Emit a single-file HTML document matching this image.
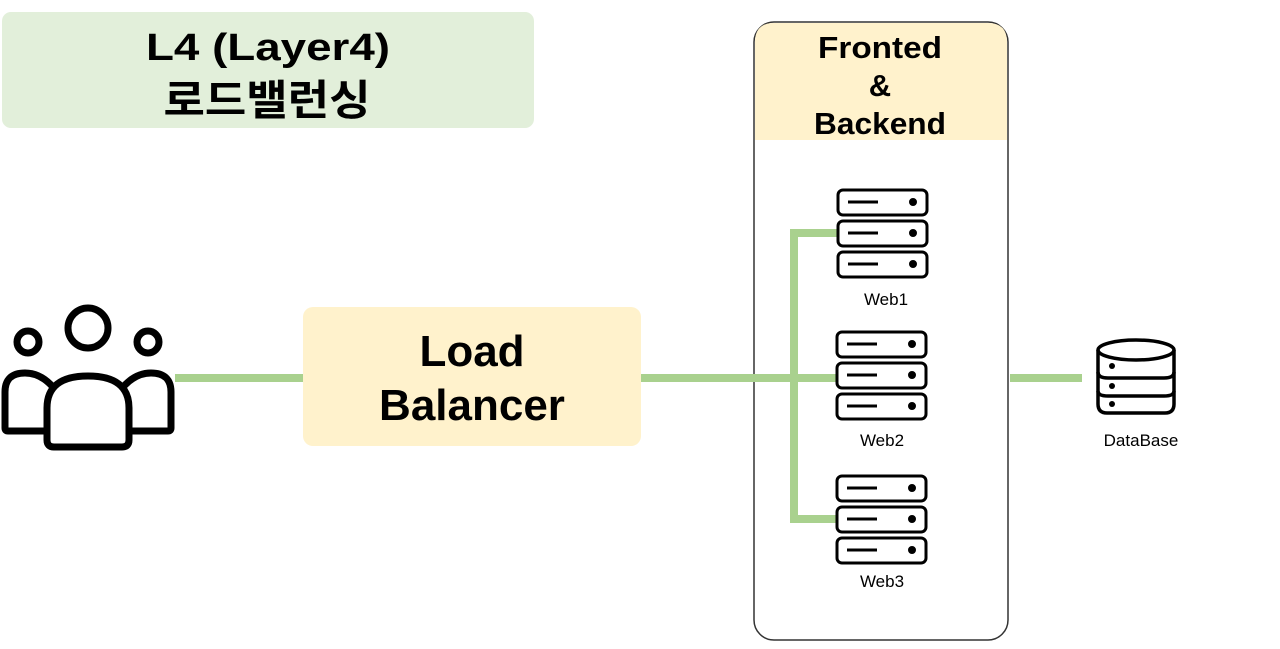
<!DOCTYPE html>
<html><head><meta charset="utf-8"><style>
body{margin:0;background:#fff;}
svg text{font-family:"Liberation Sans","Noto Sans CJK KR",sans-serif;}
</style></head><body>
<svg width="1280" height="644" viewBox="0 0 1280 644" xmlns="http://www.w3.org/2000/svg">
<rect x="2" y="12" width="532" height="116" rx="9" fill="#e2efda"/>
<text x="268" y="60" font-size="38" font-weight="bold" text-anchor="middle" textLength="244" lengthAdjust="spacingAndGlyphs">L4 (Layer4)</text>
<text x="267" y="115" font-size="42" font-weight="bold" text-anchor="middle" textLength="207" lengthAdjust="spacingAndGlyphs">로드밸런싱</text>

<rect x="754" y="22" width="254" height="618" rx="20" fill="#fff" stroke="#333" stroke-width="1.5"/>
<path d="M755 42 Q755 23 774 23 L988 23 Q1007 23 1007 42 L1007 140 L755 140 Z" fill="#fff2cc"/>
<text x="880" y="58" font-size="31" font-weight="bold" text-anchor="middle" textLength="124" lengthAdjust="spacingAndGlyphs">Fronted</text>
<text x="880" y="96" font-size="31" font-weight="bold" text-anchor="middle">&amp;</text>
<text x="880" y="134" font-size="31" font-weight="bold" text-anchor="middle" textLength="132" lengthAdjust="spacingAndGlyphs">Backend</text>

<g stroke="#a9d18e" stroke-width="8" fill="none">
<line x1="175" y1="378" x2="303" y2="378"/>
<line x1="641" y1="378" x2="837" y2="378"/>
<polyline points="837,233 794,233 794,519 837,519"/>
<line x1="1010" y1="378" x2="1082" y2="378"/>
</g>

<rect x="303" y="307" width="338" height="139" rx="10" fill="#fff2cc"/>
<text x="472" y="366" font-size="44" font-weight="bold" text-anchor="middle">Load</text>
<text x="472" y="420" font-size="44" font-weight="bold" text-anchor="middle">Balancer</text>

<g fill="none" stroke="#000" stroke-width="7" stroke-linejoin="round">
<circle cx="88" cy="328" r="20"/>
<circle cx="28" cy="342" r="11"/>
<circle cx="148" cy="342" r="11"/>
<path d="M47 440 Q47 447 54 447 L122 447 Q129 447 129 440 L129 408 Q129 376 88 376 Q47 376 47 408 Z"/>
<path d="M47 431 L8 431 Q5 431 5 428 L5 392 Q5 373 25 373 Q40 373 52 386"/>
<path d="M129 431 L168 431 Q171 431 171 428 L171 392 Q171 373 151 373 Q136 373 124 386"/>
</g>

<g id="srv" fill="none" stroke="#000" stroke-width="3">
<rect x="838" y="190" width="89" height="25" rx="5"/>
<rect x="838" y="221" width="89" height="25" rx="5"/>
<rect x="838" y="252" width="89" height="25" rx="5"/>
<line x1="848" y1="202" x2="878" y2="202"/><line x1="848" y1="233" x2="878" y2="233"/><line x1="848" y1="264" x2="878" y2="264"/>
<circle cx="913" cy="202" r="2.5" fill="#000"/><circle cx="913" cy="233" r="2.5" fill="#000"/><circle cx="913" cy="264" r="2.5" fill="#000"/>
</g>
<use href="#srv" x="-1" y="142"/>
<use href="#srv" x="-1" y="286"/>
<text x="886" y="305" font-size="17" text-anchor="middle">Web1</text>
<text x="882" y="446" font-size="17" text-anchor="middle">Web2</text>
<text x="882" y="587" font-size="17" text-anchor="middle">Web3</text>

<g fill="none" stroke="#000" stroke-width="3.5">
<ellipse cx="1136" cy="350" rx="38" ry="10"/>
<path d="M1098 350 L1098 404 Q1098 413 1107 413 L1165 413 Q1174 413 1174 404 L1174 350"/>
<path d="M1098 372 Q1098 378 1108 378 L1164 378 Q1174 378 1174 372"/>
<path d="M1098 391 Q1098 396 1108 396 L1164 396 Q1174 396 1174 391"/>
</g>
<circle cx="1112" cy="366" r="3" fill="#000"/><circle cx="1112" cy="386" r="3" fill="#000"/><circle cx="1112" cy="404" r="3" fill="#000"/>
<text x="1141" y="446" font-size="17" text-anchor="middle">DataBase</text>
</svg>
</body></html>
